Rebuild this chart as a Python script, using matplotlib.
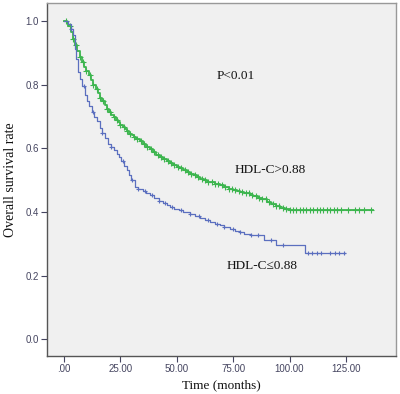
import numpy as np
import matplotlib
matplotlib.use("Agg")
import matplotlib.pyplot as plt

# Kaplan-Meier step points (time in months, survival)
high_t = [0, 1.2, 2, 3, 4, 4.9, 6, 7, 8, 9, 10, 11, 12, 13, 14, 15, 16, 17, 18,
          19, 20, 21, 22, 23, 24, 25, 26, 27, 28, 29, 30, 31, 32, 33.7, 35,
          36.5, 38, 39.5, 41, 42.6, 44, 45.5, 47, 48.5, 50, 51.4, 53, 54.5, 56,
          57.5, 59, 60.3, 62, 63.5, 65, 67, 69.1, 71, 73, 75, 76.5, 78, 80,
          82.4, 84, 86, 88, 90, 92, 94, 96, 98, 100, 137]
high_s = [1.0, 0.995, 0.985, 0.965, 0.945, 0.925, 0.905, 0.888, 0.872, 0.857,
          0.843, 0.83, 0.815, 0.80, 0.786, 0.773, 0.76, 0.748, 0.736, 0.725,
          0.715, 0.706, 0.698, 0.69, 0.682, 0.675, 0.668, 0.661, 0.654, 0.647,
          0.641, 0.635, 0.629, 0.622, 0.615, 0.605, 0.598, 0.59, 0.58, 0.573,
          0.566, 0.56, 0.555, 0.549, 0.543, 0.537, 0.531, 0.526, 0.521, 0.516,
          0.51, 0.505, 0.5, 0.496, 0.493, 0.489, 0.484, 0.479, 0.474, 0.47,
          0.466, 0.463, 0.459, 0.453, 0.449, 0.445, 0.44, 0.433, 0.425, 0.419,
          0.413, 0.409, 0.406, 0.406]

low_t = [0, 2, 3, 4.1, 4.9, 5.5, 6.3, 7, 8, 9.3, 10.3, 11.3, 12.3, 13.5, 14.5,
         16, 17, 18.3, 19.6, 21, 22.2, 23.4, 24.5, 25.5, 26.7, 27.8, 28.7,
         29.7, 31.5, 33, 35, 36.5, 38.1, 40, 42, 44, 45.5, 47, 49, 51, 53,
         55.9, 58, 60.3, 62.5, 64.7, 67, 69, 71, 73.6, 76, 78, 80, 83, 88.5,
         94, 107, 124.6]
low_s = [1.0, 0.99, 0.975, 0.956, 0.914, 0.88, 0.84, 0.82, 0.795, 0.767, 0.75,
         0.732, 0.715, 0.70, 0.686, 0.663, 0.65, 0.633, 0.615, 0.605, 0.594,
         0.584, 0.573, 0.56, 0.545, 0.531, 0.515, 0.50, 0.479, 0.472, 0.465,
         0.459, 0.453, 0.445, 0.436, 0.428, 0.422, 0.416, 0.41, 0.405, 0.40,
         0.395, 0.387, 0.38, 0.374, 0.369, 0.363, 0.358, 0.353, 0.348, 0.342,
         0.336, 0.33, 0.327, 0.311, 0.296, 0.27, 0.27]

# censored observations ("+" marks)
high_cens = [1, 2.5, 4, 5.5, 7, 8.5, 10, 11.5, 13, 14.5, 16, 17.5, 19, 20.5,
             22, 23.5, 25, 26.5, 28, 29.5, 31, 32.5, 34, 35.5, 37, 38.5, 40,
             41.5, 43, 44.5, 46, 47.5, 49, 50.5, 52, 53.5, 55, 56.5, 58, 59.5,
             61, 62.5, 64, 65.5, 67, 68.5, 70, 71.5, 73, 74.5, 76, 77.5, 79,
             80.5, 82, 83.5, 85, 86.5, 88, 89.5, 91, 92.5, 94, 95.5, 97, 98.5,
             100, 101.5, 103, 104.5, 106, 107.5, 109, 110.5, 112, 113.5, 115,
             116.5, 118, 119.5, 121, 123, 126, 129, 131, 133, 136]
low_cens = [3, 9, 13, 17, 21, 26, 30, 33, 36, 39, 42, 45, 48, 52, 56, 60, 64,
            68, 71, 75, 78, 83, 86, 92, 97, 108, 110, 112, 114, 118, 120, 122,
            124]

xticks = [0, 25, 50, 75, 100, 125]
yticks = [0.0, 0.2, 0.4, 0.6, 0.8, 1.0]

green = "#3cb54e"
blue = "#5b6fbf"


def step_value(ts, ss, t):
    idx = np.searchsorted(ts, t, side="right") - 1
    return np.asarray(ss)[idx]


fig = plt.figure(figsize=(4.0, 3.94), dpi=100)
ax = fig.add_axes([0.1175, 0.097, 0.8725, 0.895])
ax.set_facecolor("#f0f0f0")

for ts, ss, cens, col, lw, ms in [(high_t, high_s, high_cens, green, 1.3, 4),
                                  (low_t, low_s, low_cens, blue, 0.9, 3.5)]:
    ax.step(ts, ss, where="post", color=col, lw=lw)
    ax.plot(cens, step_value(ts, ss, cens), ls="none", marker="+",
            ms=ms, mew=0.8, color=col)

ax.set_xlim(-7.5, 147.2)
ax.set_ylim(-0.052, 1.057)
ax.set_xticks(xticks)
ax.set_xticklabels([".00" if v == 0 else "%.2f" % v for v in xticks])
ax.set_yticks(yticks)
ax.set_yticklabels(["%.1f" % v for v in yticks])

for lab in ax.get_xticklabels() + ax.get_yticklabels():
    lab.set_fontfamily("Liberation Sans")
    lab.set_fontsize(7)
ax.tick_params(direction="out", length=4, width=0.8, colors="#454560",
               labelcolor="#454560", pad=2)

for side in ["left", "bottom"]:
    ax.spines[side].set_color("#555555")
    ax.spines[side].set_linewidth(1.0)
for side in ["top", "right"]:
    ax.spines[side].set_color("#999999")
    ax.spines[side].set_linewidth(1.0)

serif = dict(family="Liberation Serif", color="#111111")
ax.set_xlabel("Time (months)", fontsize=9.5, labelpad=4, **serif)
ax.set_ylabel("Overall survival rate", fontsize=10, labelpad=6, **serif)

ax.text(67.8, 0.827, "P<0.01", fontsize=9.5, va="center", **serif)
ax.text(75.6, 0.531, "HDL-C>0.88", fontsize=9.5, va="center", **serif)
ax.text(72.2, 0.23, "HDL-C\u22640.88", fontsize=9.5, va="center",
        family=["Liberation Serif", "DejaVu Serif"], color="#111111")

fig.savefig("out.png", dpi=100, facecolor="white")
